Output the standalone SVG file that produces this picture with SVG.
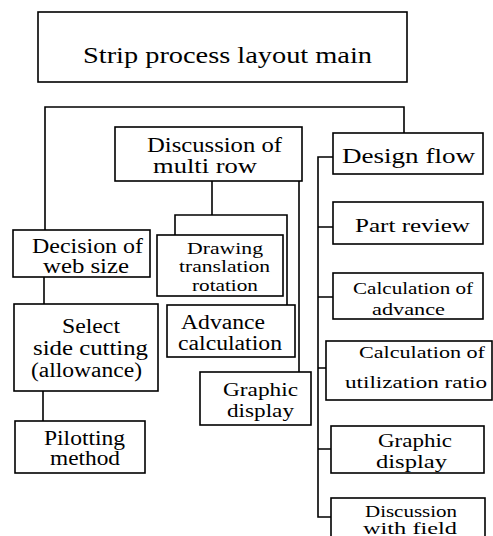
<svg xmlns="http://www.w3.org/2000/svg" width="493" height="536" viewBox="0 0 493 536">
<style>
rect{fill:#fff;stroke:#000;stroke-width:1.6}
.c path{fill:none;stroke:#000;stroke-width:1.6}
text{font-family:"Liberation Serif","Times New Roman",serif;fill:#000}
</style>
<rect x="0" y="0" width="493" height="536" style="stroke:none"/>
<g class="c" id="connectors">
<path d="M45 230V107H404V133"/>
<path d="M44 277V304"/>
<path d="M43 391V421"/>
<path d="M212 181V215"/>
<path d="M175 235V215H287V305"/>
<path d="M299 181V372"/>
<path d="M333 157H318V517H331"/>
<path d="M318 227H333M318 297H333M318 368H326M318 449H331"/>
</g>
<g id="title"><rect x="38" y="12" width="369" height="70"/>
<text x="83" y="63" font-size="24" textLength="289" lengthAdjust="spacingAndGlyphs">Strip process layout main</text></g>
<g id="multirow"><rect x="115" y="127" width="187" height="54"/>
<text x="147" y="152" font-size="20" textLength="135" lengthAdjust="spacingAndGlyphs">Discussion of</text>
<text x="153" y="173" font-size="20" textLength="104" lengthAdjust="spacingAndGlyphs">multi row</text></g>
<g id="websize"><rect x="13" y="230" width="137" height="47"/>
<text x="32" y="253" font-size="20" textLength="111" lengthAdjust="spacingAndGlyphs">Decision of</text>
<text x="43" y="273" font-size="20" textLength="86" lengthAdjust="spacingAndGlyphs">web size</text></g>
<g id="sidecut"><rect x="14" y="304" width="144" height="87"/>
<text x="62" y="333" font-size="20" textLength="58" lengthAdjust="spacingAndGlyphs">Select</text>
<text x="33" y="355" font-size="20" textLength="115" lengthAdjust="spacingAndGlyphs">side cutting</text>
<text x="31" y="377" font-size="20" textLength="111" lengthAdjust="spacingAndGlyphs">(allowance)</text></g>
<g id="pilot"><rect x="15" y="421" width="130" height="52"/>
<text x="44" y="445" font-size="20" textLength="81" lengthAdjust="spacingAndGlyphs">Pilotting</text>
<text x="50" y="465" font-size="20" textLength="70" lengthAdjust="spacingAndGlyphs">method</text></g>
<g id="drawing"><rect x="157" y="235" width="126" height="61"/>
<text x="187" y="254" font-size="17" textLength="76" lengthAdjust="spacingAndGlyphs">Drawing</text>
<text x="179" y="272" font-size="17" textLength="91" lengthAdjust="spacingAndGlyphs">translation</text>
<text x="192" y="291" font-size="17" textLength="66" lengthAdjust="spacingAndGlyphs">rotation</text></g>
<g id="advcalc"><rect x="167" y="305" width="128" height="52"/>
<text x="181" y="329" font-size="20" textLength="84" lengthAdjust="spacingAndGlyphs">Advance</text>
<text x="178" y="350" font-size="20" textLength="104" lengthAdjust="spacingAndGlyphs">calculation</text></g>
<g id="graphic1"><rect x="200" y="372" width="111" height="53"/>
<text x="223" y="396" font-size="19" textLength="75" lengthAdjust="spacingAndGlyphs">Graphic</text>
<text x="227" y="417" font-size="19" textLength="67" lengthAdjust="spacingAndGlyphs">display</text></g>
<g id="designflow"><rect x="333" y="133" width="150" height="41"/>
<text x="342" y="163" font-size="20" textLength="133" lengthAdjust="spacingAndGlyphs">Design flow</text></g>
<g id="partreview"><rect x="333" y="202" width="150" height="42"/>
<text x="355" y="232" font-size="19" textLength="115" lengthAdjust="spacingAndGlyphs">Part review</text></g>
<g id="calcadv"><rect x="333" y="273" width="150" height="46"/>
<text x="353" y="294" font-size="17" textLength="120" lengthAdjust="spacingAndGlyphs">Calculation of</text>
<text x="372" y="315" font-size="17" textLength="73" lengthAdjust="spacingAndGlyphs">advance</text></g>
<g id="calcutil"><rect x="326" y="341" width="166" height="59"/>
<text x="359" y="358" font-size="16" textLength="126" lengthAdjust="spacingAndGlyphs">Calculation of</text>
<text x="345" y="388" font-size="16" textLength="142" lengthAdjust="spacingAndGlyphs">utilization ratio</text></g>
<g id="graphic2"><rect x="331" y="426" width="153" height="47"/>
<text x="378" y="447" font-size="19" textLength="74" lengthAdjust="spacingAndGlyphs">Graphic</text>
<text x="376" y="468" font-size="19" textLength="71" lengthAdjust="spacingAndGlyphs">display</text></g>
<g id="field"><rect x="331" y="498" width="154" height="48"/>
<text x="365" y="517" font-size="16" textLength="92" lengthAdjust="spacingAndGlyphs">Discussion</text>
<text x="363" y="534" font-size="16" textLength="94" lengthAdjust="spacingAndGlyphs">with field</text></g>
</svg>
